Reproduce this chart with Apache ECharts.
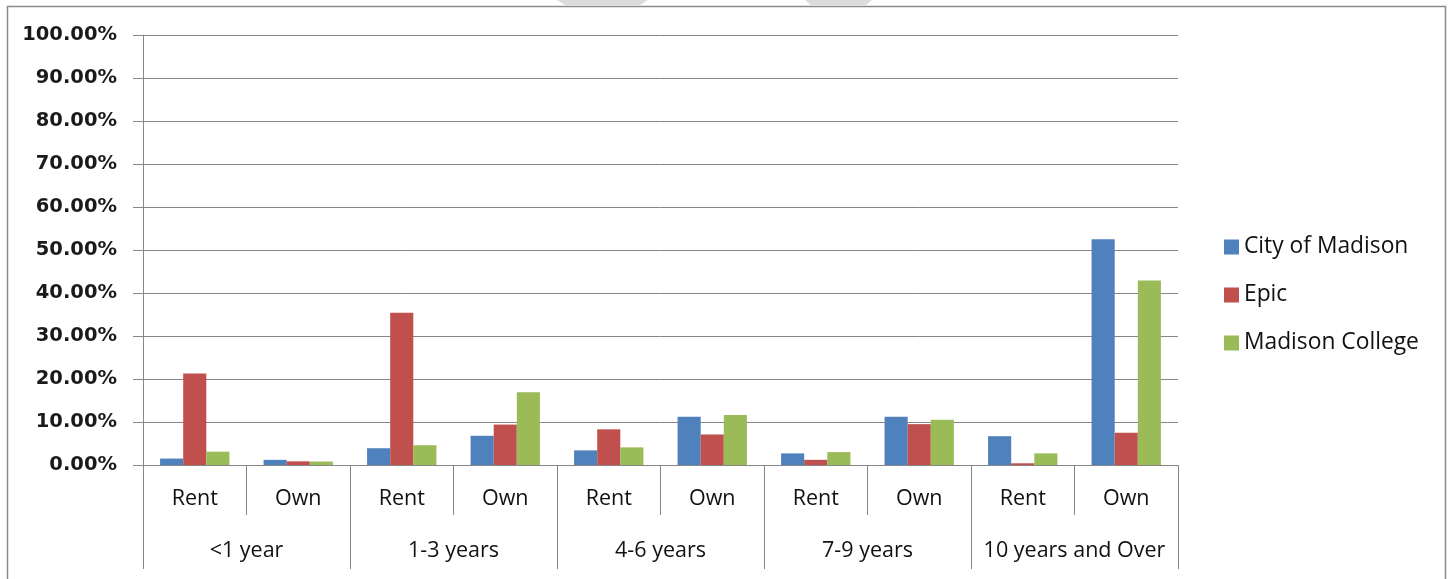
<!DOCTYPE html>
<html>
<head>
<meta charset="utf-8">
<script src="https://cdn.jsdelivr.net/npm/echarts@6/dist/echarts.min.js"></script>
<style>html,body{margin:0;padding:0;background:#fff;}#c{width:1449px;height:579px;}</style>
</head>
<body>
<div id="c"></div>
<script>
const tenureCategories = ['Rent','Own','Rent','Own','Rent','Own','Rent','Own','Rent','Own'];
const yearGroups = ['<1 year','1-3 years','4-6 years','7-9 years','10 years and Over'];
const cityOfMadison = [1.5, 1.2, 3.9, 6.8, 3.4, 11.2, 2.7, 11.2, 6.7, 52.5];
const epic = [21.3, 0.85, 35.4, 9.4, 8.3, 7.1, 1.2, 9.5, 0.4, 7.5];
const madisonCollege = [3.1, 0.8, 4.6, 16.9, 4.1, 11.6, 3.0, 10.5, 2.7, 42.9];
const seriesNames = ['City of Madison','Epic','Madison College'];
const colors = ['#4F81BD','#C0504D','#9BBB59'];

const chart = echarts.init(document.getElementById('c'));
const lineColor = '#868686';
const labelFont = 'Open Sans, Noto Sans, sans-serif';
chart.setOption({
  animation: false,
  color: colors,
  grid: {left: 143, right: 271, top: 35, bottom: 114, containLabel: false},
  legend: {
    orient: 'vertical', left: 1219, top: 230,
    itemWidth: 15, itemHeight: 15, itemGap: 24, itemTextGap: 5,
    icon: 'rect',
    textStyle: {fontFamily: labelFont, fontSize: 22.8, color: '#111', lineHeight: 24},
    data: seriesNames
  },
  xAxis: [
    {
      type: 'category', data: tenureCategories, position: 'bottom',
      axisLine: {show: true, lineStyle: {color: lineColor, width: 1}},
      axisTick: {show: true, length: 50, lineStyle: {color: lineColor}},
      axisLabel: {margin: 23, fontFamily: labelFont, fontSize: 21.5, color: '#111', interval: 0}
    },
    {
      type: 'category', data: yearGroups, position: 'bottom', gridIndex: 0,
      axisLine: {show: false},
      axisTick: {show: true, length: 104, lineStyle: {color: lineColor}},
      axisLabel: {margin: 75, fontFamily: labelFont, fontSize: 21.5, color: '#111', interval: 0}
    }
  ],
  yAxis: {
    type: 'value', min: 0, max: 100, interval: 10,
    axisLine: {show: true, lineStyle: {color: lineColor}},
    axisTick: {show: true, length: 10, lineStyle: {color: lineColor}},
    splitLine: {show: true, lineStyle: {color: lineColor}},
    axisLabel: {
      margin: 26, fontFamily: 'DejaVu Sans', fontWeight: 'bold', fontSize: 19.5, color: '#1a1a1a',
      formatter: v => v.toFixed(2) + '%'
    }
  },
  series: [
    {name: seriesNames[0], type: 'bar', xAxisIndex: 0, data: cityOfMadison, barGap: '0%', barCategoryGap: '33%'},
    {name: seriesNames[1], type: 'bar', xAxisIndex: 0, data: epic, barGap: '0%', barCategoryGap: '33%'},
    {name: seriesNames[2], type: 'bar', xAxisIndex: 0, data: madisonCollege, barGap: '0%', barCategoryGap: '33%'}
  ],
  graphic: [
    {type: 'rect', shape: {x: 7.5, y: 6.5, width: 1438, height: 600}, style: {fill: 'none', stroke: '#8a8a8a', lineWidth: 1.5}, silent: true},
    {type: 'polygon', shape: {points: [[557,0],[648,0],[640,5],[565,5]]}, style: {fill: '#dcdcdc'}, silent: true},
    {type: 'polygon', shape: {points: [[805,0],[872,0],[866,5],[811,5]]}, style: {fill: '#dcdcdc'}, silent: true}
  ]
});
</script>
</body>
</html>
